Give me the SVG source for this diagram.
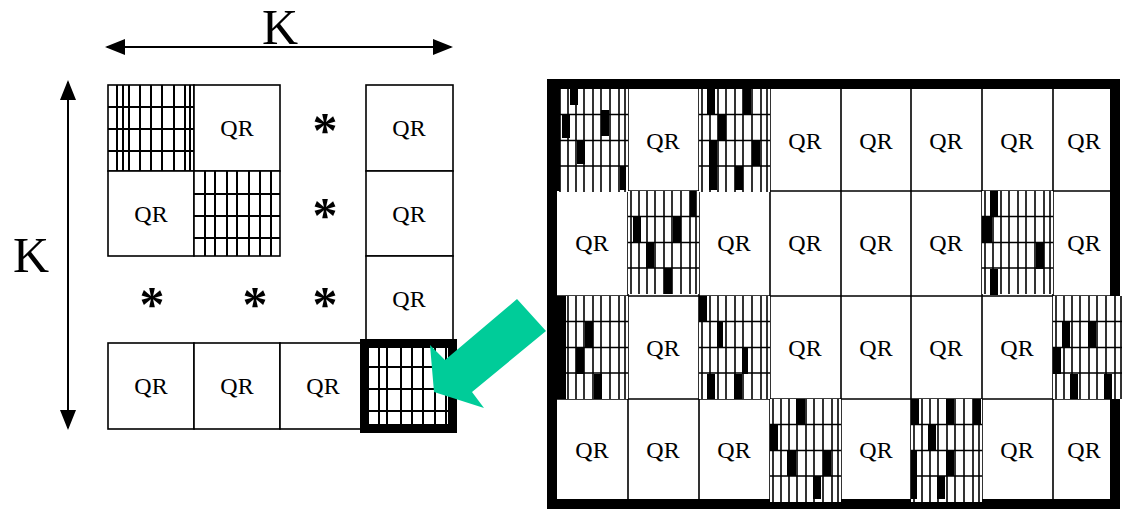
<svg xmlns="http://www.w3.org/2000/svg" width="1122" height="510" viewBox="0 0 1122 510">
<style>
.cell{fill:#fff;stroke:#000;stroke-width:1.6}
.qr{font-family:"Liberation Serif",serif;font-size:24px;text-anchor:middle;fill:#000}
.k{font-family:"Liberation Serif",serif;font-size:50px;text-anchor:middle;fill:#000}
.star{font-family:"Liberation Serif",serif;font-size:50px;font-weight:bold;text-anchor:middle;fill:#000}
.hl{stroke:#000;stroke-width:2;fill:none}
.rl{stroke:#000;stroke-width:1.6;fill:none}
.blk{fill:#000}
.dim{stroke:#000;stroke-width:2;fill:none}
</style>
<defs>
<marker id="ah" markerWidth="20" markerHeight="16" refX="18" refY="8" orient="auto-start-reverse" markerUnits="userSpaceOnUse">
<path d="M0,0 L20,8 L0,16 Z" fill="#000"/>
</marker>
<g id="rh">
<rect x="0" y="0" width="71" height="103" fill="#fff"/>
<path class="rl" d="M3,0V103M11,0V103M19,0V103M27,0V103M36,0V103M44,0V103M53,0V103M62,0V103M68,0V103M0,25.5H71M0,51.5H71M0,77H71"/>
</g>
</defs>

<g id="dimensions">
<line class="dim" x1="107" y1="47" x2="451" y2="47" marker-start="url(#ah)" marker-end="url(#ah)"/>
<text class="k" x="280" y="44">K</text>
<line class="dim" x1="68" y1="82" x2="68" y2="428" marker-start="url(#ah)" marker-end="url(#ah)"/>
<text class="k" x="31" y="272">K</text>
</g>

<g id="left-hatch-1">
<rect class="cell" x="108" y="85" width="86" height="86"/>
<path class="hl" d="M117,85V171M123,85V171M129,85V171M140,85V171M151,85V171M162,85V171M174,85V171M185,85V171M190,85V171M108,107H194M108,129H194M108,151H194"/>
</g>
<g id="left-qr-1"><rect class="cell" x="194" y="85" width="86" height="86"/><text class="qr" x="237" y="136">QR</text></g>
<g id="left-qr-2"><rect class="cell" x="108" y="171" width="86" height="85"/><text class="qr" x="151" y="222">QR</text></g>
<g id="left-hatch-2">
<rect class="cell" x="194" y="171" width="86" height="85"/>
<path class="hl" d="M205,171V256M215,171V256M227,171V256M237,171V256M249,171V256M260,171V256M271,171V256M194,194H280M194,216H280M194,238H280"/>
</g>
<g id="left-qr-3"><rect class="cell" x="366" y="85" width="87" height="86"/><text class="qr" x="409" y="136">QR</text></g>
<g id="left-qr-4"><rect class="cell" x="366" y="171" width="87" height="85"/><text class="qr" x="409" y="222">QR</text></g>
<g id="left-qr-5"><rect class="cell" x="366" y="256" width="87" height="86"/><text class="qr" x="409" y="307">QR</text></g>
<g id="left-qr-6"><rect class="cell" x="108" y="343" width="86" height="86"/><text class="qr" x="151" y="394">QR</text></g>
<g id="left-qr-7"><rect class="cell" x="194" y="343" width="86" height="86"/><text class="qr" x="237" y="394">QR</text></g>
<g id="left-qr-8"><rect class="cell" x="280" y="343" width="86" height="86"/><text class="qr" x="323" y="394">QR</text></g>
<g id="left-hatch-3">
<rect x="364.5" y="343.5" width="88" height="85" fill="#fff" stroke="#000" stroke-width="9"/>
<path class="hl" d="M379,348V424M387,348V424M401,348V424M412,348V424M423,348V424M435,348V424M446,348V424M369,367H448M369,389H448M369,411H448"/>
</g>
<g id="stars">
<text class="star" x="325" y="147">*</text>
<text class="star" x="325" y="232">*</text>
<text class="star" x="152" y="321">*</text>
<text class="star" x="255" y="321">*</text>
<text class="star" x="325" y="321">*</text>
</g>

<g id="right-grid">
<rect x="552" y="84" width="563" height="420" fill="#fff" stroke="#000" stroke-width="10"/>
<path class="rl" d="M628,89V499M699,89V499M770,89V499M841,89V499M911,89V499M982,89V499M1053,89V499M557,191H1115M557,296H1115M557,399H1115"/>
</g>

<g id="right-hatch-r1c1">
<use href="#rh" x="557" y="89"/>
<rect class="blk" x="557" y="89" width="3" height="102"/>
<rect class="blk" x="562" y="114" width="8" height="24"/>
<rect class="blk" x="570" y="89" width="8" height="16"/>
<rect class="blk" x="577" y="140" width="8" height="24"/>
<rect class="blk" x="601" y="110" width="8" height="26"/>
<rect class="blk" x="620" y="166" width="6" height="24"/>
</g>
<g id="right-hatch-r1c3">
<use href="#rh" x="699" y="89"/>
<rect class="blk" x="707" y="89" width="8" height="26"/>
<rect class="blk" x="718" y="114" width="8" height="27"/>
<rect class="blk" x="709" y="140" width="8" height="26"/>
<rect class="blk" x="743" y="89" width="8" height="26"/>
<rect class="blk" x="752" y="140" width="8" height="26"/>
<rect class="blk" x="709" y="166" width="8" height="24"/>
<rect class="blk" x="735" y="166" width="8" height="24"/>
</g>
<g id="right-hatch-r2c2">
<use href="#rh" x="628" y="191"/>
<rect class="blk" x="633" y="216" width="8" height="26"/>
<rect class="blk" x="673" y="216" width="8" height="26"/>
<rect class="blk" x="646" y="242" width="8" height="26"/>
<rect class="blk" x="664" y="268" width="8" height="26"/>
<rect class="blk" x="690" y="191" width="6" height="26"/>
</g>
<g id="right-hatch-r2c7">
<use href="#rh" x="982" y="191"/>
<rect class="blk" x="990" y="191" width="8" height="26"/>
<rect class="blk" x="982" y="217" width="10" height="26"/>
<rect class="blk" x="1036" y="243" width="8" height="26"/>
<rect class="blk" x="990" y="269" width="8" height="26"/>
</g>
<g id="right-hatch-r3c1">
<use href="#rh" x="557" y="296"/>
<rect class="blk" x="557" y="296" width="9" height="103"/>
<rect class="blk" x="585" y="322" width="8" height="26"/>
<rect class="blk" x="576" y="348" width="8" height="26"/>
<rect class="blk" x="594" y="374" width="8" height="25"/>
</g>
<g id="right-hatch-r3c3">
<use href="#rh" x="699" y="296"/>
<rect class="blk" x="699" y="296" width="8" height="26"/>
<rect class="blk" x="717" y="322" width="6" height="26"/>
<rect class="blk" x="742" y="348" width="6" height="26"/>
<rect class="blk" x="707" y="374" width="8" height="25"/>
<rect class="blk" x="734" y="374" width="8" height="25"/>
</g>
<g id="right-hatch-r3c8">
<use href="#rh" x="1053" y="296"/>
<rect class="blk" x="1062" y="322" width="8" height="26"/>
<rect class="blk" x="1088" y="322" width="8" height="26"/>
<rect class="blk" x="1053" y="348" width="8" height="26"/>
<rect class="blk" x="1070" y="374" width="8" height="25"/>
<rect class="blk" x="1104" y="374" width="8" height="25"/>
</g>
<g id="right-hatch-r4c4">
<use href="#rh" x="770" y="399"/>
<rect class="blk" x="796" y="399" width="9" height="26"/>
<rect class="blk" x="770" y="425" width="8" height="26"/>
<rect class="blk" x="787" y="451" width="9" height="25"/>
<rect class="blk" x="823" y="451" width="8" height="25"/>
<rect class="blk" x="813" y="476" width="8" height="23"/>
</g>
<g id="right-hatch-r4c6">
<use href="#rh" x="911" y="399"/>
<rect class="blk" x="911" y="399" width="8" height="26"/>
<rect class="blk" x="911" y="451" width="6" height="48"/>
<rect class="blk" x="946" y="399" width="8" height="26"/>
<rect class="blk" x="928" y="425" width="8" height="26"/>
<rect class="blk" x="946" y="451" width="8" height="25"/>
<rect class="blk" x="937" y="476" width="8" height="23"/>
<rect class="blk" x="973" y="399" width="8" height="26"/>
</g>

<g id="right-qr-labels">
<text class="qr" x="663" y="149">QR</text>
<text class="qr" x="805" y="149">QR</text>
<text class="qr" x="876" y="149">QR</text>
<text class="qr" x="946" y="149">QR</text>
<text class="qr" x="1017" y="149">QR</text>
<text class="qr" x="1084" y="149">QR</text>
<text class="qr" x="592" y="251">QR</text>
<text class="qr" x="734" y="251">QR</text>
<text class="qr" x="805" y="251">QR</text>
<text class="qr" x="876" y="251">QR</text>
<text class="qr" x="946" y="251">QR</text>
<text class="qr" x="1084" y="251">QR</text>
<text class="qr" x="663" y="356">QR</text>
<text class="qr" x="805" y="356">QR</text>
<text class="qr" x="876" y="356">QR</text>
<text class="qr" x="946" y="356">QR</text>
<text class="qr" x="1017" y="356">QR</text>
<text class="qr" x="592" y="458">QR</text>
<text class="qr" x="663" y="458">QR</text>
<text class="qr" x="734" y="458">QR</text>
<text class="qr" x="876" y="458">QR</text>
<text class="qr" x="1017" y="458">QR</text>
<text class="qr" x="1084" y="458">QR</text>
</g>

<g id="connectors">
<polygon points="430,345 445,360 517,299 546,331 472,392 484,408 434,392" fill="#00CC99"/>
</g>
</svg>
